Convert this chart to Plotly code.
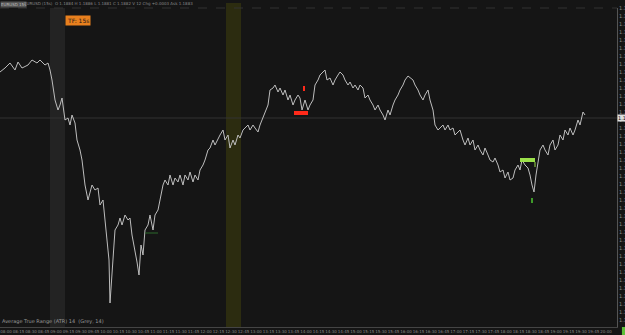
import plotly.graph_objects as go
import numpy as np

# bar numbers (time index) and closing prices
bars = [0,5,10,15,18,22,28,32,37,40,
        45,48,50,52,55,58,60,62,65,68,
        70,72,75,77,80,82,85,88,92,95,
        98,100,103,105,107,109,110,112,115,118,
        120,122,125,128,130,132,135,137,139,141,
        143,145,148,150,153,155,158,160,163,165,
        168,170,173,175,178,180,183,185,188,190,
        193,195,198,200,203,205,208,210,213,215,
        218,220,223,225,228,230,233,235,238,240,
        243,245,248,250,253,255,258,260,263,265,
        268,270,273,275,278,280,283,285,288,290,
        293,295,298,300,302,305,308,310,313,315,
        318,320,323,325,327,330,333,335,338,340,
        343,345,348,350,353,355,358,360,363,365,
        368,370,373,375,378,380,383,385,388,390,
        393,395,398,400,403,405,408,410,413,415,
        418,420,423,425,428,430,433,435,438,440,
        443,445,448,450,453,455,458,460,463,465,
        468,470,473,475,478,480,483,485,488,490,
        493,495,498,500,503,505,508,510,513,515,
        518,520,522,525,528,530,532,534,536,538,
        540,543,545,548,550,553,555,558,560,563,
        565,568,570,573,575,578,580,583,585]

prices = [1.1928,1.1932,1.1937,1.1930,1.1938,1.1932,1.1935,1.1940,1.1937,1.1940,
          1.1935,1.1937,1.1930,1.1920,1.1900,1.1890,1.1895,1.1902,1.1880,1.1882,
          1.1875,1.1885,1.1877,1.1860,1.1850,1.1840,1.1815,1.1800,1.1815,1.1810,
          1.1812,1.1795,1.1800,1.1780,1.1760,1.1740,1.1697,1.1730,1.1770,1.1775,
          1.1782,1.1775,1.1785,1.1780,1.1782,1.1765,1.1750,1.1738,1.1725,1.1755,
          1.1745,1.1770,1.1775,1.1785,1.1770,1.1785,1.1790,1.1800,1.1815,1.1820,
          1.1815,1.1825,1.1815,1.1822,1.1818,1.1825,1.1815,1.1825,1.1820,1.1828,
          1.1818,1.1825,1.1820,1.1830,1.1835,1.1840,1.1850,1.1852,1.1860,1.1855,
          1.1862,1.1865,1.1870,1.1860,1.1865,1.1852,1.1860,1.1855,1.1865,1.1862,
          1.1870,1.1872,1.1875,1.1870,1.1875,1.1872,1.1868,1.1875,1.1882,1.1888,
          1.1895,1.1910,1.1912,1.1915,1.1908,1.1912,1.1905,1.1910,1.1900,1.1905,
          1.1895,1.1900,1.1905,1.1902,1.1890,1.1900,1.1890,1.1895,1.1900,1.1915,
          1.1920,1.1925,1.1928,1.1930,1.1920,1.1922,1.1915,1.1920,1.1925,1.1928,
          1.1925,1.1920,1.1915,1.1918,1.1912,1.1915,1.1910,1.1915,1.1912,1.1902,
          1.1905,1.1900,1.1895,1.1890,1.1895,1.1890,1.1885,1.1880,1.1890,1.1885,
          1.1895,1.1900,1.1905,1.1910,1.1915,1.1920,1.1924,1.1922,1.1920,1.1915,
          1.1910,1.1905,1.1900,1.1905,1.1910,1.1900,1.1890,1.1875,1.1870,1.1872,
          1.1875,1.1870,1.1875,1.1870,1.1872,1.1865,1.1868,1.1870,1.1860,1.1855,
          1.1862,1.1855,1.1860,1.1850,1.1855,1.1850,1.1845,1.1852,1.1845,1.1840,
          1.1838,1.1842,1.1835,1.1828,1.1830,1.1822,1.1828,1.1820,1.1822,1.1830,
          1.1835,1.1830,1.1840,1.1835,1.1832,1.1825,1.1815,1.1808,1.1825,1.1840,
          1.1850,1.1855,1.1850,1.1845,1.1855,1.1860,1.1850,1.1855,1.1865,1.1860,
          1.1870,1.1865,1.1872,1.1865,1.1870,1.1880,1.1875,1.1888,1.1885]

last_price = 1.1882
gray_session = [50, 65]
olive_session = [226, 241]
sell_box = [294, 308, 1.1885, 1.1889]
sell_mark = [303, 305, 1.1909, 1.1914]
buy_box = [520, 535, 1.1838, 1.1842]
buy_mark = [531, 533, 1.1797, 1.1802]
level_seg = [145, 158, 1.1767]

tick_bars = list(np.arange(6, 612, 12.5))
tick_text = []
for i, _ in enumerate(tick_bars):
    m = 8 * 60 + i * 15
    tick_text.append(f"{m // 60:02d}:{m % 60:02d}")

n = min(len(bars), len(prices))
fig = go.Figure()
fig.add_trace(go.Scatter(x=bars[:n], y=prices[:n], mode="lines",
                         line=dict(color="#bdbdbd", width=1), hoverinfo="skip"))

shapes = []
shapes.append(dict(type="rect", xref="x", yref="paper", x0=gray_session[0], x1=gray_session[1],
                   y0=0, y1=1, fillcolor="#232323", line_width=0, layer="below"))
shapes.append(dict(type="rect", xref="x", yref="paper", x0=olive_session[0], x1=olive_session[1],
                   y0=0, y1=1.016, fillcolor="#2c2c10", line_width=0, layer="below"))
shapes.append(dict(type="line", xref="paper", yref="y", x0=0, x1=1, y0=last_price, y1=last_price,
                   line=dict(color="#333333", width=1), layer="below"))
shapes.append(dict(type="line", xref="paper", yref="paper", x0=0, x1=1, y0=1, y1=1,
                   line=dict(color="#333333", width=1, dash="dash")))
shapes.append(dict(type="line", xref="x", yref="y", x0=level_seg[0], x1=level_seg[1],
                   y0=level_seg[2], y1=level_seg[2], line=dict(color="#2d6b2d", width=1)))
for b, c in [(sell_box, "#ff2a1a"), (sell_mark, "#ff2a1a"), (buy_box, "#9be04a"), (buy_mark, "#3f9a2a")]:
    shapes.append(dict(type="rect", xref="x", yref="y", x0=b[0], x1=b[1], y0=b[2], y1=b[3],
                       fillcolor=c, line_width=0))
shapes.append(dict(type="line", xref="x", yref="y", x0=buy_box[1], x1=buy_box[1],
                   y0=buy_box[2] - 0.0005, y1=buy_box[2], line=dict(color="#9be04a", width=1)))
shapes.append(dict(type="rect", xref="paper", yref="paper", x0=1.008, x1=1.02, y0=-0.03, y1=0.0,
                   fillcolor="#5fbf3a", line_width=0))

annotations = [
    dict(xref="paper", yref="paper", x=0.0, y=1.0, xanchor="left", yanchor="bottom",
         text="EURUSD 15s", showarrow=False, bgcolor="#555555",
         font=dict(size=4, color="#bbbbbb", family="DejaVu Sans"), borderpad=0),
    dict(xref="paper", yref="paper", x=0.036, y=1.0, xanchor="left", yanchor="bottom",
         text="EURUSD (15s)  O 1.1884 H 1.1886 L 1.1881 C 1.1882 V 12 Chg +0.0003 Ask 1.1883",
         showarrow=False, font=dict(size=4, color="#888888", family="DejaVu Sans")),
    dict(xref="x", yref="paper", x=78, y=0.978, text="TF: 15s", showarrow=False,
         bgcolor="#e8801e", font=dict(size=6, color="#1a1a1a", family="DejaVu Sans"), borderpad=1),
    dict(xref="paper", yref="paper", x=0.0, y=0.0, xanchor="left", yanchor="bottom",
         text="Average True Range (ATR) 14  (Grey, 14)", showarrow=False,
         font=dict(size=5, color="#999999", family="DejaVu Sans")),
    dict(xref="paper", yref="y", x=1.0, y=last_price, xanchor="left", text=f"{last_price:.4f}",
         showarrow=False, bgcolor="#dddddd", font=dict(size=5, color="#111111", family="DejaVu Sans"),
         borderpad=0),
]

fig.update_layout(
    width=625, height=335,
    margin=dict(l=0, r=8, t=8, b=8, autoexpand=False),
    paper_bgcolor="#151515", plot_bgcolor="#151515",
    showlegend=False, shapes=shapes, annotations=annotations,
    xaxis=dict(range=[0, 617], showgrid=False, zeroline=False, tickvals=tick_bars, ticktext=tick_text,
               tickangle=0, automargin=False,
               tickfont=dict(size=4, color="#888888", family="DejaVu Sans"), ticks="",
               showline=True, linecolor="#444444"),
    yaxis=dict(range=[1.1673, 1.1992], side="right", showgrid=False, zeroline=False,
               tick0=1.1680, dtick=0.0008, tickformat=".4f", ticks="", automargin=False,
               tickfont=dict(size=5, color="#888888", family="DejaVu Sans"),
               showline=True, linecolor="#555555"),
)
fig.write_html("out.html")
